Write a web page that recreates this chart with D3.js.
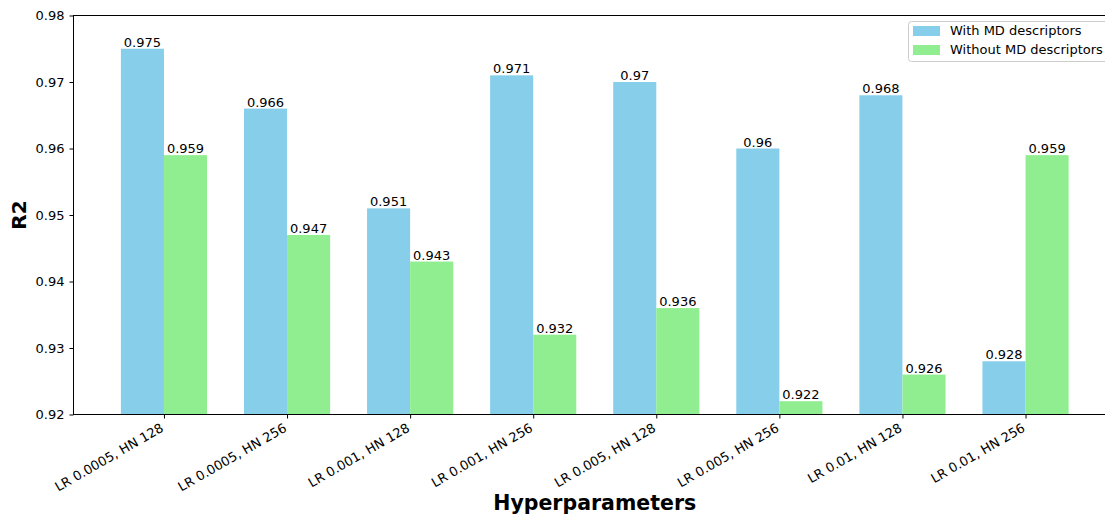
<!DOCTYPE html>
<html><head><meta charset="utf-8">
<script src="https://cdn.jsdelivr.net/npm/d3@7"></script>
<style>body{margin:0;background:#fff}svg{display:block;font-family:"DejaVu Sans",sans-serif}</style>
</head><body><svg id="c" width="1105" height="516"></svg>
<script>
const categories=["LR 0.0005, HN 128","LR 0.0005, HN 256","LR 0.001, HN 128","LR 0.001, HN 256","LR 0.005, HN 128","LR 0.005, HN 256","LR 0.01, HN 128","LR 0.01, HN 256"];
const withMD=[0.975,0.966,0.951,0.971,0.970,0.960,0.968,0.928];
const withoutMD=[0.959,0.947,0.943,0.932,0.936,0.922,0.926,0.959];
const withLabels=["0.975","0.966","0.951","0.971","0.97","0.96","0.968","0.928"];
const withoutLabels=["0.959","0.947","0.943","0.932","0.936","0.922","0.926","0.959"];
const yTicks=[0.92,0.93,0.94,0.95,0.96,0.97,0.98];
const seriesNames=["With MD descriptors","Without MD descriptors"];
const colors=["#87CEEB","#90EE90"];

const svg=d3.select("#c");
const L=73.5,R=1116,T=15.5,B=414.5;
const bw=0.35;
const x=d3.scaleLinear().domain([-0.735,7.735]).range([L,R]);
const y=d3.scaleLinear().domain([0.92,0.98]).range([B,T]);
const unit=x(1)-x(0);
const g=svg.append("g");
const series=[withMD,withoutMD];
const labs=[withLabels,withoutLabels];
series.forEach((s,si)=>{
  const off=si===0?-bw:0;
  g.selectAll(null).data(s).enter().append("rect")
   .attr("x",(d,i)=>x(i+off)).attr("width",bw*unit)
   .attr("y",d=>y(d)).attr("height",d=>B-y(d)).attr("fill",colors[si]);
  g.selectAll(null).data(s).enter().append("text")
   .attr("x",(d,i)=>x(i+off+bw/2)).attr("y",d=>y(d)-2)
   .attr("text-anchor","middle").attr("font-size",13).attr("fill","#000")
   .text((d,i)=>labs[si][i]);
});
// axes
const yAxis=d3.axisLeft(y).tickValues(yTicks).tickFormat(d3.format(".2f")).tickSize(4).tickPadding(5);
const ya=svg.append("g").attr("transform",`translate(${L},0)`).call(yAxis);
ya.select(".domain").remove();
ya.selectAll("text").attr("font-size",13).attr("fill","#000").attr("font-family","DejaVu Sans");
ya.selectAll("line").attr("stroke","#000");
const xAxis=d3.axisBottom(x).tickValues(d3.range(categories.length)).tickFormat(i=>categories[i]).tickSize(4).tickPadding(4);
const xa=svg.append("g").attr("transform",`translate(0,${B})`).call(xAxis);
xa.select(".domain").remove();
xa.selectAll("line").attr("stroke","#000");
xa.selectAll("text").attr("font-size",13).attr("fill","#000").attr("font-family","DejaVu Sans")
  .attr("text-anchor","end").attr("dy",0).attr("transform","translate(0,16) rotate(-30)").attr("y",0).attr("x",0);
// spines
svg.append("rect").attr("x",L).attr("y",T).attr("width",R-L).attr("height",B-T).attr("fill","none").attr("stroke","#000").attr("stroke-width",1);
// labels
svg.append("text").attr("transform",`translate(26,${(T+B)/2}) rotate(-90)`).attr("text-anchor","middle")
  .attr("font-size",20).attr("font-weight","bold").text("R2");
svg.append("text").attr("x",(L+R)/2).attr("y",510).attr("text-anchor","middle")
  .attr("font-size",20.5).attr("font-weight","bold").text("Hyperparameters");
// legend
const lg=svg.append("g").attr("transform","translate(908,21)");
lg.append("rect").attr("x",0.5).attr("y",0.5).attr("width",215).attr("height",40).attr("rx",3)
  .attr("fill","#fff").attr("fill-opacity",0.8).attr("stroke","#ccc");
seriesNames.forEach((n,i)=>{
  lg.append("rect").attr("x",5).attr("y",5+i*19).attr("width",27).attr("height",10).attr("fill",colors[i]);
  lg.append("text").attr("x",42).attr("y",14+i*19).attr("font-size",13).text(n);
});
</script></body></html>
